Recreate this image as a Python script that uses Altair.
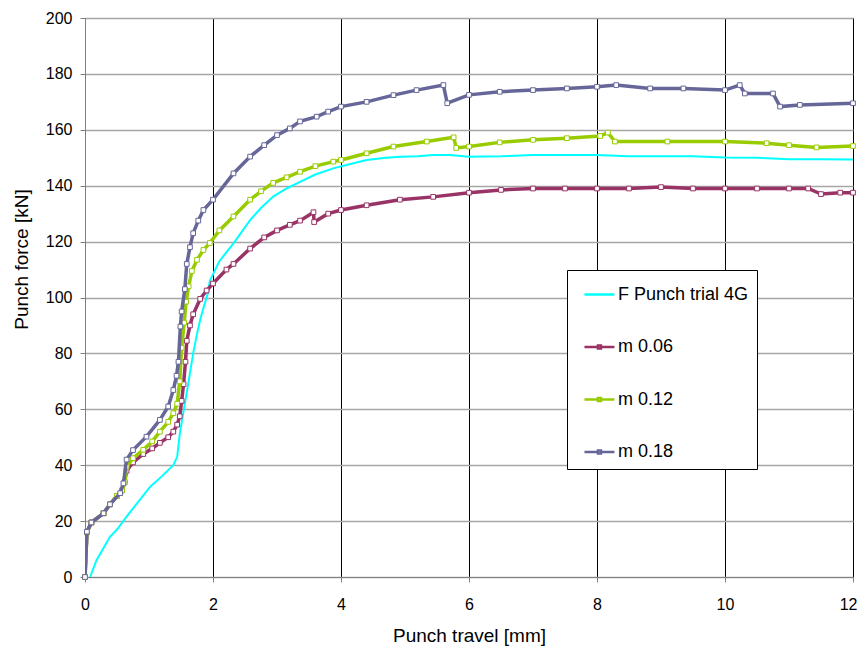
import altair as alt
import pandas as pd

SERIES = ["F Punch trial 4G", "m 0.06", "m 0.12", "m 0.18"]
COLORS = ["#00FFFF", "#993366", "#99CC00", "#666699"]

# F Punch trial 4G
x_cyan = [0.08, 0.18, 0.39, 0.5, 0.65, 0.8, 1.02, 1.2, 1.38, 1.44, 1.48, 1.53, 1.59, 1.64, 1.69,
          1.75, 1.80, 1.86, 1.92, 1.95, 2.1, 2.32, 2.58, 2.75, 2.94, 3.15, 3.36, 3.6, 3.88, 4.1,
          4.4, 4.7, 4.92, 5.2, 5.44, 5.7, 6.0, 6.5, 7.0, 7.5, 8.0, 8.5, 9.0, 9.5, 10.0, 10.5,
          11.0, 11.5, 12.0]
f_cyan = [0, 6, 14.4, 17, 21.6, 26, 32.3, 36, 40, 43, 51, 58, 66, 73, 80,
          87, 92, 97, 101.5, 106, 113, 119.4, 127.7, 132, 136.1, 139, 141.4, 144, 146.2, 147.5,
          149.2, 150, 150.4, 150.5, 151, 151, 150.4, 150.5, 151, 151, 151, 150.5, 150.5, 150.5, 150.1, 150,
          149.5, 149.5, 149.4]

# m 0.06
x_m06 = [0, 0.03, 0.1, 0.29, 0.39, 0.5, 0.58, 0.62, 0.65, 0.75, 0.91, 1.05, 1.17, 1.3, 1.38,
         1.44, 1.48, 1.51, 1.54, 1.57, 1.59, 1.64, 1.69, 1.8, 1.9, 2.0, 2.21, 2.32, 2.58, 2.8,
         3.0, 3.2, 3.36, 3.57, 3.58, 3.8, 4.0, 4.4, 4.92, 5.44, 6.0, 6.5, 7.0, 7.5, 8.0, 8.5,
         9.0, 9.5, 10.0, 10.5, 11.0, 11.3, 11.5, 11.8, 12.0]
f_m06 = [0, 16, 19.5, 22.8, 26, 29, 31, 34, 38, 41, 44, 46, 48, 50, 52,
         54.5, 57.5, 63, 69, 77, 84.5, 90, 94, 99.5, 102.5, 105, 110, 112, 117.5, 121.5,
         124, 126, 127.5, 130.5, 127, 130, 131.3, 133, 135, 136, 137.5, 138.5, 139, 139, 139, 139,
         139.5, 139, 139, 139, 139, 139, 137, 137.5, 137.5]

# m 0.12
x_m12 = [0, 0.03, 0.1, 0.29, 0.39, 0.5, 0.58, 0.62, 0.65, 0.75, 0.91, 1.05, 1.17, 1.3, 1.38,
         1.44, 1.48, 1.51, 1.55, 1.58, 1.62, 1.67, 1.75, 1.85, 1.95, 2.1, 2.32, 2.58, 2.75, 2.94,
         3.15, 3.36, 3.6, 3.88, 4.0, 4.4, 4.82, 5.34, 5.76, 5.8, 6.0, 6.48, 7.0, 7.53, 8.05, 8.17,
         8.28, 9.1, 10.0, 10.65, 11.0, 11.43, 12.0]
f_m12 = [0, 16, 19.5, 22.8, 26, 29, 31, 34, 39.5, 42.5, 45.5, 48.5, 52, 55.5, 58.6,
         62, 70, 82, 91, 98.5, 104, 109.5, 113.5, 117, 119.5, 124, 129, 135, 138, 141,
         143, 145, 147, 148.6, 149.2, 151.6, 154, 155.8, 157.3, 153.5, 154, 155.5, 156.4, 157, 157.8, 159,
         155.8, 155.8, 155.8, 155.2, 154.5, 153.7, 154.2]

# m 0.18
x_m18 = [0, 0.03, 0.1, 0.29, 0.39, 0.55, 0.6, 0.65, 0.75, 0.96, 1.17, 1.3, 1.38, 1.43, 1.46,
         1.49, 1.51, 1.56, 1.59, 1.64, 1.69, 1.77, 1.85, 2.0, 2.32, 2.58, 2.8, 3.0, 3.2, 3.36,
         3.62, 3.8, 4.0, 4.4, 4.82, 5.18, 5.6, 5.66, 6.0, 6.48, 7.0, 7.53, 8.0, 8.3, 8.83, 9.35,
         10.0, 10.23, 10.31, 10.75, 10.86, 11.17, 12.0]
f_m18 = [0, 16.2, 19.5, 22.8, 26, 30, 33.5, 42, 45.4, 50.2, 56.2, 61, 66.9, 72, 77,
         89.6, 95, 103, 112, 118, 123, 127.5, 131.3, 135, 144.4, 150.4, 154.5, 158.1, 160.5, 163,
         164.7, 166.5, 168.3, 170, 172.4, 174.2, 176, 169.5, 172.5, 173.6, 174.2, 174.8, 175.4, 176, 174.8, 174.8,
         174.2, 176, 173, 173, 168.3, 168.9, 169.5]

XS = [x_cyan, x_m06, x_m12, x_m18]
FS = [f_cyan, f_m06, f_m12, f_m18]

rows = []
for s, xs, fs in zip(SERIES, XS, FS):
    for i, (a, b) in enumerate(zip(xs, fs)):
        rows.append({"series": s, "x": a, "F": b, "i": i})
df = pd.DataFrame(rows)

FONT = "Liberation Sans"
plain_path = "M-0.47,0H1.53"
marker_path = "M-0.47,0H0.43M0.63,0H1.53M0.43,-0.1H0.63V0.1H0.43Z"
SHAPES = [plain_path, marker_path, marker_path, marker_path]

legend = alt.Legend(
    title=None,
    orient="none",
    legendX=482,
    legendY=252,
    padding=8,
    strokeColor="black",
    fillColor="white",
    symbolSize=900,
    symbolStrokeWidth=2.5,
    symbolFillColor="white",
    labelOffset=10,
    rowPadding=26.5,
    labelFont=FONT,
    labelFontSize=18,
    labelColor="black",
    labelLimit=300,
)

xenc = alt.X("x:Q", scale=alt.Scale(domain=[0, 12], nice=False),
             axis=alt.Axis(title="Punch travel [mm]", values=[0, 2, 4, 6, 8, 10, 12],
                           grid=True, gridColor="#000000", gridWidth=1, labelFlush=False,
                           labelAlign={"condition": {"test": "datum.value == 12", "value": "right"},
                                       "value": "center"},
                           labelOffset={"condition": {"test": "datum.value == 12", "value": 4},
                                        "value": 0},
                           labelPadding=14, titlePadding=14))
yenc = alt.Y("F:Q", scale=alt.Scale(domain=[0, 200], nice=False),
             axis=alt.Axis(title="Punch force [kN]", values=list(range(0, 201, 20)),
                           grid=True, gridColor="#a6a6a6", gridWidth=1.5, labelFlush=False,
                           labelPadding=8, titlePadding=14, titleY=241))
color_scale = alt.Scale(domain=SERIES, range=COLORS)

# legend-only layer (no rows drawn), placed first so its legend wins the merge
legend_layer = alt.Chart(df).transform_filter("false").mark_point(
    filled=False, opacity=1, strokeWidth=2.5, size=900
).encode(
    x=xenc, y=yenc,
    color=alt.Color("series:N", scale=color_scale, legend=legend),
    shape=alt.Shape("series:N", scale=alt.Scale(domain=SERIES, range=SHAPES), legend=legend),
)
layers = [legend_layer]

for k, s in enumerate(SERIES):
    base = alt.Chart(df).transform_filter(alt.datum.series == s)
    layers.append(base.mark_line(strokeWidth=2 if k == 0 else 3.5, clip=True).encode(
        x=xenc, y=yenc, color=alt.Color("series:N", scale=color_scale, legend=None), order="i:Q"))
    if k > 0:
        layers.append(base.mark_point(shape="square", size=22, filled=True, fill="white",
                                      stroke=COLORS[k], strokeWidth=1, opacity=1).encode(
            x=xenc, y=yenc))

chart = alt.layer(*layers).properties(
    width=768, height=559,
    autosize=alt.AutoSizeParams(type="none"),
    padding={"left": 77, "top": 10, "right": 5, "bottom": 70},
).configure_view(
    stroke="black", strokeWidth=1
).configure_axis(
    labelFont=FONT, labelFontSize=16, labelColor="black",
    titleFont=FONT, titleFontSize=19, titleFontWeight="normal", titleColor="black",
    domainColor="#808080", tickColor="#808080", tickSize=5,
)

chart.save("out.html", embed_options={"renderer": "svg", "actions": False})
